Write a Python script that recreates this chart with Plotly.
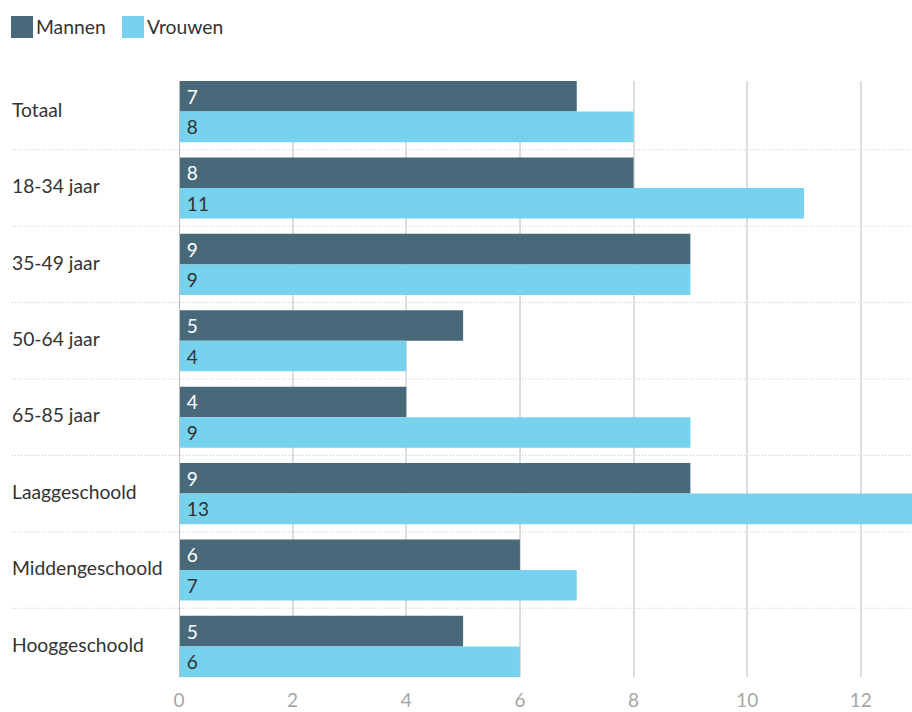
import plotly.graph_objects as go

categories = ["Totaal", "18-34 jaar", "35-49 jaar", "50-64 jaar", "65-85 jaar",
              "Laaggeschoold", "Middengeschoold", "Hooggeschoold"]
mannen = [7, 8, 9, 5, 4, 9, 6, 5]
vrouwen = [8, 11, 9, 4, 9, 13, 7, 6]

c_man = "#48697a"
c_vrouw = "#77d2ee"
font = "Lato, 'Open Sans', sans-serif"

fig = go.Figure()
fig.add_trace(go.Bar(
    y=categories, x=mannen, name="Mannen", orientation="h",
    marker=dict(color=c_man, line=dict(width=0)),
    text=[f" {v}" for v in mannen], textposition="inside", insidetextanchor="start",
    textfont=dict(color="white", size=19, family=font),
))
fig.add_trace(go.Bar(
    y=categories, x=vrouwen, name="Vrouwen", orientation="h",
    marker=dict(color=c_vrouw, line=dict(width=0)),
    text=[f" {v}" for v in vrouwen], textposition="inside", insidetextanchor="start",
    textfont=dict(color="#333333", size=19, family=font),
))

# dotted separators between the groups, running under the labels too
for i in range(len(categories) - 1):
    fig.add_shape(type="line", xref="paper", yref="y",
                  x0=-0.228, x1=1, y0=i + 0.5, y1=i + 0.5,
                  line=dict(color="#c4c4c4", width=1, dash="1px,2px"), layer="below")

# left aligned category labels
for i, c in enumerate(categories):
    fig.add_annotation(x=(10 - 179) / 733, y=i - 0.03, xref="paper", yref="y", text=c,
                       showarrow=False, xanchor="left", yanchor="middle",
                       font=dict(size=19.3, color="#333333", family=font))

# legend drawn by hand so the swatches can be larger
legend = [("Mannen", c_man, 11), ("Vrouwen", c_vrouw, 122)]
for name, col, px in legend:
    x0 = (px - 179) / 733
    x1 = (px + 22 - 179) / 733
    fig.add_shape(type="rect", xref="paper", yref="paper",
                  x0=x0, x1=x1, y0=(677 - 16) / 596, y1=(677 - 38) / 596,
                  fillcolor=col, line=dict(width=0))
    fig.add_annotation(x=(px + 23 - 179) / 733, y=(677 - 27) / 596,
                       xref="paper", yref="paper", text=name, showarrow=False,
                       xanchor="left", yanchor="middle",
                       font=dict(size=19.3, color="#333333", family=font))

fig.update_layout(
    width=912, height=712,
    margin=dict(l=179, r=0, t=81, b=35),
    barmode="group", bargap=0.2, bargroupgap=0,
    plot_bgcolor="white", paper_bgcolor="white",
    showlegend=False,
    font=dict(family=font),
    xaxis=dict(range=[0, 12.9], dtick=2, showgrid=True, gridcolor="#dddddd",
               gridwidth=2, zeroline=False, showline=False,
               tickfont=dict(size=19, color="#a6a6a6"), ticks="",
               ticklabelstandoff=10),
    yaxis=dict(range=[7.4, -0.4], showticklabels=False, showgrid=False,
               zeroline=False, showline=False),
)
fig.add_shape(type="line", xref="x", yref="paper", x0=0, x1=0, y0=0, y1=1,
              line=dict(color="#bbbbbb", width=2))

fig.write_html("out.html", config={"displayModeBar": False},
               post_script="document.body.style.margin='0';")
